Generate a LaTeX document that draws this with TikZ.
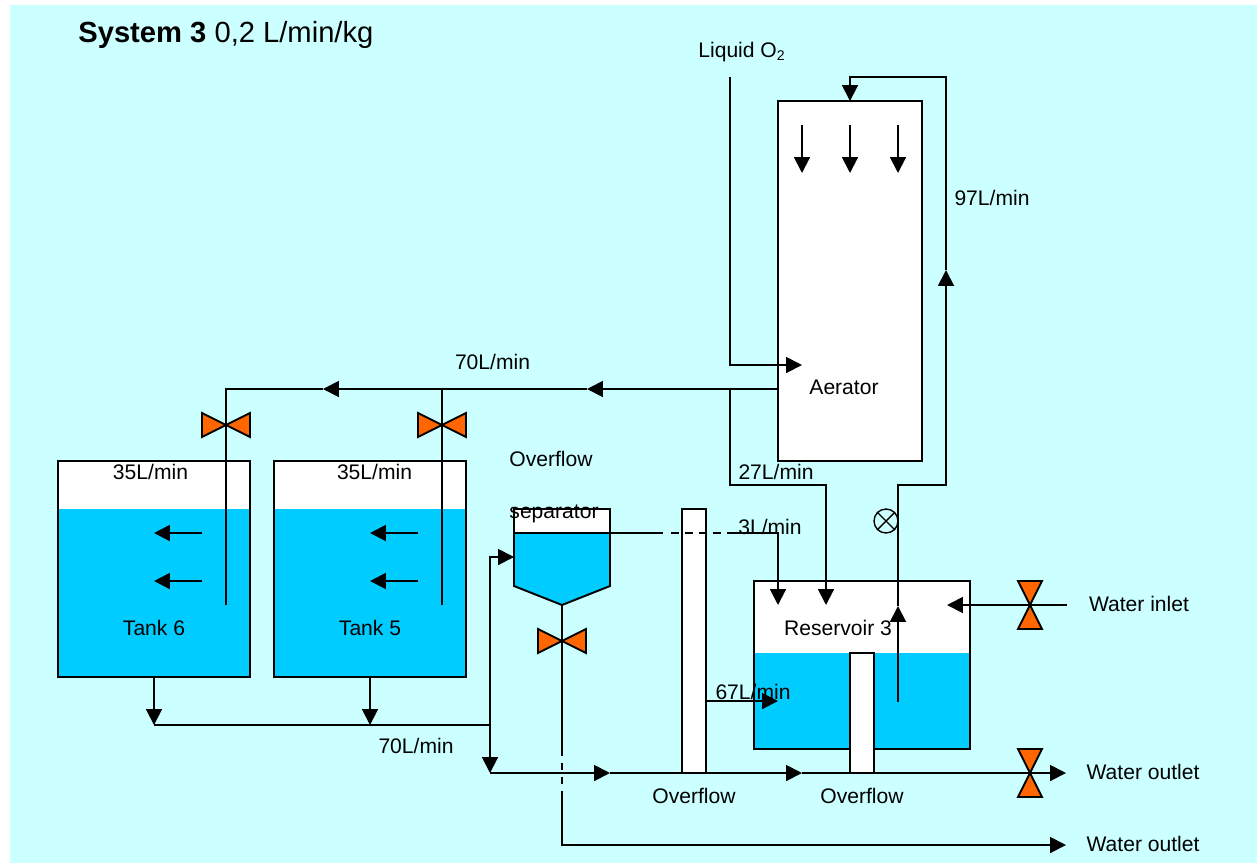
\documentclass[tikz,border=0pt]{standalone}
\usepackage{fontspec}
\setmainfont{Liberation Sans}
\usetikzlibrary{arrows.meta}
\tikzset{
  pipe/.style={line width=1.1pt,>={Triangle[length=9pt,width=9pt]}},
  wall/.style={line width=1.1pt,draw=black},
  water/.style={fill=watercol},
  valve/.style={line width=1.1pt,draw=black,fill=valvecol},
  label/.style={font=\fontsize{12}{14}\selectfont,inner sep=0pt}
}
\definecolor{bgcol}{HTML}{CCFFFF}
\definecolor{watercol}{HTML}{00CCFF}
\definecolor{valvecol}{HTML}{FF6600}

\begin{document}
\begin{tikzpicture}[x=0.02cm,y=-0.02cm]
        \useasboundingbox (0,0) rectangle (1257,863);
        \fill[bgcol] (10,5) rectangle (1257,863);

        % Tanks
        \fill[white] (58,461) rectangle (250,509);
        \fill[water] (58,509) rectangle (250,677);
        \draw[wall] (58,461) rectangle (250,677);
        \fill[white] (274,461) rectangle (466,509);
        \fill[water] (274,509) rectangle (466,677);
        \draw[wall] (274,461) rectangle (466,677);

        % Aerator
        \draw[wall,fill=white] (778,101) rectangle (922,461);

        % Reservoir
        \fill[white] (754,581) rectangle (970,653);
        \fill[water] (754,653) rectangle (970,749);
        \draw[wall] (754,581) rectangle (970,749);

        % Overflow separator
        \fill[white] (514,509) rectangle (610,533);
        \fill[water] (514,533) -- (610,533) -- (610,586) -- (562,605) -- (514,586) -- cycle;
        \draw[wall] (514,533) -- (514,509) -- (610,509) -- (610,586) -- (562,605) -- (514,586) -- cycle;
        \draw[wall] (514,533) -- (610,533);

        % Overflow columns
        \draw[wall,fill=white] (682,509) rectangle (706,773);
        \draw[wall,fill=white] (850,653) rectangle (874,773);

        % Named pipe points
        \coordinate (aerout) at (778,389);
        \coordinate (split) at (730,389);
        \coordinate (branchfive) at (442,389);
        \coordinate (branchsix) at (226,389);
        \coordinate (sepin) at (514,557);
        \coordinate (sepout) at (562,605);
        \coordinate (collect) at (490,725);
        \coordinate (drain) at (490,773);

        % Feed from the aerator to the tanks
        \draw[pipe,->] (aerout) -- (587,389);
        \draw[pipe,->] (587,389) -- (323,389);
        \draw[pipe] (323,389) -- (branchsix) -- (226,605);
        \draw[pipe] (branchfive) -- (442,605);

        % Branch to reservoir
        \draw[pipe,->] (split) -- (730,485) -- (826,485) -- (826,605);

        % Liquid oxygen
        \draw[pipe,->] (730,77) -- (730,365) -- (802,365);

        % Return to the aerator
        \draw[pipe,->] (898,702) -- (898,606);
        \draw[pipe,->] (898,606) -- (898,485) -- (946,485) -- (946,270);
        \draw[pipe,->] (946,270) -- (946,77) -- (850,77) -- (850,101);

        % Arrows inside aerator
        \draw[pipe,->] (802,125) -- (802,173);
        \draw[pipe,->] (850,125) -- (850,173);
        \draw[pipe,->] (898,125) -- (898,173);

        % Arrows inside tanks
        \draw[pipe,->] (202,533) -- (154,533);
        \draw[pipe,->] (202,581) -- (154,581);
        \draw[pipe,->] (418,533) -- (370,533);
        \draw[pipe,->] (418,581) -- (370,581);

        % Tank outlets
        \draw[pipe,->] (154,677) -- (154,725);
        \draw[pipe,->] (370,677) -- (370,725);
        \draw[pipe] (154,725) -- (collect);
        \draw[pipe,->] (490,725) -- (drain);
        \draw[pipe,->] (collect) -- (490,557) -- (sepin);

        % Separator surface line
        \draw[pipe] (610,533) -- (663,533);
        \draw[pipe,dash pattern=on 4.5pt off 3.4pt] (671,533) -- (721,533);
        \draw[pipe,->] (727,533) -- (778,533) -- (778,605);

        % Separator drain
        \draw[pipe] (sepout) -- (562,756);
        \draw[pipe,dash pattern=on 4pt off 4pt] (562,763) -- (562,784);
        \draw[pipe,->] (562,791) -- (562,845) -- (1066,845);

        % Overflow branch
        \draw[pipe,->] (706,701) -- (778,701);

        % Bottom water line
        \draw[pipe,->] (drain) -- (610,773);
        \draw[pipe,->] (610,773) -- (802,773);
        \draw[pipe,->] (802,773) -- (1066,773);

        % Water inlet
        \draw[pipe,->] (1067,605) -- (947,605);

        % Pump
        \node[circle,draw,line width=0.8pt,minimum size=0.48cm,inner sep=0pt] (pump) at (886,521) {};
        \draw[line width=0.8pt] (pump.north west) -- (pump.south east);
        \draw[line width=0.8pt] (pump.north east) -- (pump.south west);

        % Valves
        \draw[valve,shift={(226,425)}] (-24,-12) -- (24,12) -- (24,-12) -- (-24,12) -- cycle;
        \draw[valve,shift={(442,425)}] (-24,-12) -- (24,12) -- (24,-12) -- (-24,12) -- cycle;
        \draw[valve,shift={(562,641)}] (-24,-12) -- (24,12) -- (24,-12) -- (-24,12) -- cycle;
        \draw[valve,shift={(1030,605)}] (-12,-24) -- (12,-24) -- (-12,24) -- (12,24) -- cycle;
        \draw[valve,shift={(1030,773)}] (-12,-24) -- (12,-24) -- (-12,24) -- (12,24) -- cycle;

        % Labels
        \node[anchor=base west,inner sep=0pt,font=\fontsize{16.6}{20}\selectfont] (title) at (78,42.5) {\textbf{System 3} 0,2 L/min/kg};
        \node[label] (oxygen) at (742,52) {Liquid O\textsubscript{2}};
        \node[label] (flowout) at (492.5,362) {70L/min};
        \node[label] (flowret) at (992,198) {97L/min};
        \node[label] (aerlabel) at (844,387) {Aerator};
        \node[label] (flowsix) at (150.5,472) {35L/min};
        \node[label] (flowfive) at (374.5,472) {35L/min};
        \node[label] (tanksix) at (154,628) {Tank 6};
        \node[label] (tankfive) at (370,628) {Tank 5};
        \node[label] (flowres) at (776,472) {27L/min};
        \node[label] (sepone) at (551,459) {Overflow};
        \node[label] (septwo) at (554,514) {separator};
        \node[label] (flowsep) at (770,527) {3L/min};
        \node[label] (reslabel) at (838,628) {Reservoir 3};
        \node[label] (flowover) at (753,692) {67L/min};
        \node[label] (flowback) at (416,746) {70L/min};
        \node[label] (overone) at (694,796) {Overflow};
        \node[label] (overtwo) at (862,796) {Overflow};
        \node[label] (inlet) at (1139,604) {Water inlet};
        \node[label] (outone) at (1143,772) {Water outlet};
        \node[label] (outtwo) at (1143,844) {Water outlet};

    \end{tikzpicture}
\end{document}
